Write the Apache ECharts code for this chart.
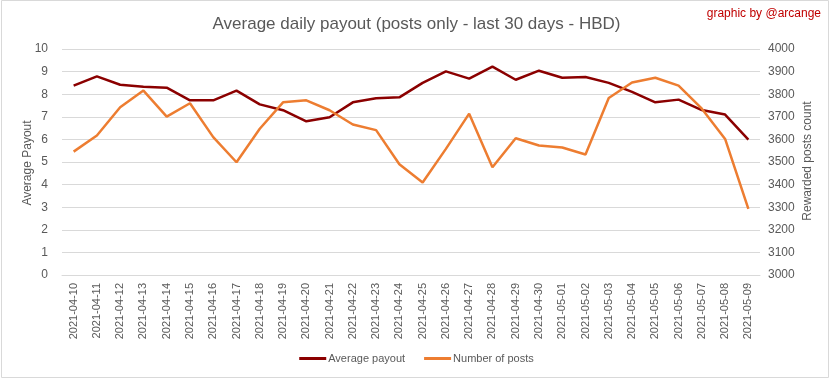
<!DOCTYPE html>
<html><head><meta charset="utf-8">
<script src="https://cdn.jsdelivr.net/npm/echarts@6/dist/echarts.min.js"></script>
<style>html,body{margin:0;padding:0;background:#fff}#c{width:833px;height:379px}</style>
</head><body><div id="c"></div>
<script>
const categories = ["2021-04-10","2021-04-11","2021-04-12","2021-04-13","2021-04-14","2021-04-15","2021-04-16","2021-04-17","2021-04-18","2021-04-19","2021-04-20","2021-04-21","2021-04-22","2021-04-23","2021-04-24","2021-04-25","2021-04-26","2021-04-27","2021-04-28","2021-04-29","2021-04-30","2021-05-01","2021-05-02","2021-05-03","2021-05-04","2021-05-05","2021-05-06","2021-05-07","2021-05-08","2021-05-09"];
const averagePayout = [8.38,8.79,8.42,8.33,8.29,7.73,7.73,8.16,7.55,7.29,6.80,6.98,7.64,7.82,7.86,8.50,9.01,8.69,9.22,8.64,9.04,8.73,8.76,8.50,8.10,7.64,7.76,7.30,7.10,5.99];
const numberOfPosts = [3546,3617,3742,3816,3701,3760,3610,3499,3647,3764,3773,3729,3666,3641,3490,3409,3558,3714,3477,3605,3573,3564,3533,3783,3852,3873,3838,3736,3602,3293];
const leftTicks = {min:0,max:10,interval:1};
const rightTicks = {min:3000,max:4000,interval:100};

const FONT = "'Liberation Sans', 'DejaVu Sans', sans-serif";
const chart = echarts.init(document.getElementById('c'));
chart.setOption({
  animation:false,
  textStyle:{fontFamily:FONT},
  title:{text:'Average daily payout (posts only - last 30 days - HBD)',left:'center',top:11,
    textStyle:{fontSize:17,fontWeight:'normal',color:'#595959',fontFamily:FONT}},
  graphic:[
    {type:'rect',shape:{x:1.5,y:0.5,width:827,height:377},style:{fill:'none',stroke:'#D9D9D9',lineWidth:1},silent:true},
    {type:'text',right:12,top:8,style:{text:'graphic by @arcange',fill:'#C00000',fontSize:12,fontFamily:FONT}},
    {type:'text',x:28,y:163,rotation:Math.PI/2,
     style:{text:'Average Payout',fill:'#595959',fontSize:12,fontFamily:FONT,align:'center',verticalAlign:'middle'}},
    {type:'text',x:808,y:161,rotation:Math.PI/2,
     style:{text:'Rewarded posts count',fill:'#595959',fontSize:12,fontFamily:FONT,align:'center',verticalAlign:'middle'}}
  ],
  legend:{bottom:10,left:'center',icon:'rect',itemWidth:27,itemHeight:3,itemGap:19,
    textStyle:{color:'#595959',fontSize:11,fontFamily:FONT,padding:[0,0,0,-3]},
    data:['Average payout','Number of posts']},
  grid:{left:62,right:73,top:49,bottom:104},
  xAxis:{type:'category',data:categories,boundaryGap:true,
    axisLine:{show:true,lineStyle:{color:'#D9D9D9'}},axisTick:{show:false},
    axisLabel:{rotate:90,color:'#595959',fontSize:11,interval:0,margin:8}},
  yAxis:[
    {type:'value',min:leftTicks.min,max:leftTicks.max,interval:leftTicks.interval,
     axisLine:{show:false},axisTick:{show:false},axisLabel:{color:'#595959',fontSize:12,margin:14},
     splitLine:{lineStyle:{color:'#D9D9D9'}}},
    {type:'value',min:rightTicks.min,max:rightTicks.max,interval:rightTicks.interval,
     axisLine:{show:false},axisTick:{show:false},
     axisLabel:{color:'#595959',fontSize:12,margin:8,formatter:function(v){return String(v);}},
     splitLine:{show:false}}
  ],
  series:[
    {name:'Average payout',type:'line',data:averagePayout,yAxisIndex:0,symbol:'none',
     lineStyle:{color:'#8B0000',width:2.5},itemStyle:{color:'#8B0000'}},
    {name:'Number of posts',type:'line',data:numberOfPosts,yAxisIndex:1,symbol:'none',
     lineStyle:{color:'#ED7D31',width:2.5},itemStyle:{color:'#ED7D31'}}
  ]
});
</script></body></html>
